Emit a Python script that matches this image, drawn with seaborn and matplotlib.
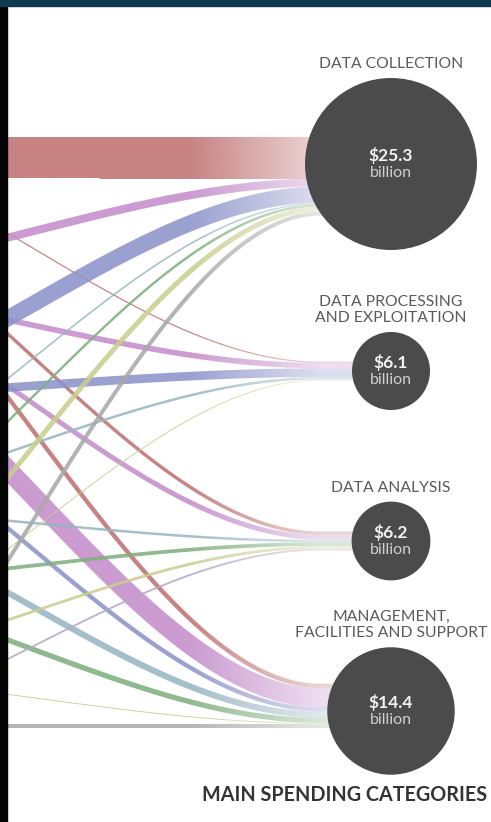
import numpy as np
import pandas as pd
import matplotlib
matplotlib.use("Agg")
import matplotlib.pyplot as plt
from matplotlib.patches import Polygon, Rectangle
from matplotlib.colors import to_rgb
import seaborn as sns

# spending categories (right-hand circles), $ billion
categories = ["DATA COLLECTION", "DATA PROCESSING\nAND EXPLOITATION",
              "DATA ANALYSIS", "MANAGEMENT,\nFACILITIES AND SUPPORT"]
totals = [25.3, 6.1, 6.2, 14.4]

# funding sources sit off the left edge of the crop, only their colour shows
sources = ["red", "purple", "blue", "teal", "green", "yellow", "gray", "lilac", "gray2"]

# flows from source to category, $ billion, in the order they leave each source
flow_source = ["red", "red", "red", "red",
               "purple", "purple", "purple", "purple",
               "blue", "blue", "blue",
               "teal", "teal", "teal", "teal",
               "green", "green", "green",
               "yellow", "yellow", "yellow", "yellow",
               "gray", "lilac", "gray2"]
flow_target = [1, 0, 3, 2,
               2, 0, 1, 3,
               3, 1, 0,
               3, 2, 1, 0,
               3, 0, 2,
               3, 2, 1, 0,
               3, 2, 0]
flow_value = [0.4, 13.3, 1.4, 1.1,
              1.6, 2.6, 1.8, 6.2,
              1.4, 2.8, 5.2,
              2.0, 0.8, 0.8, 0.5,
              1.7, 0.8, 1.2,
              0.3, 0.9, 0.3, 1.6,
              1.4, 0.6, 1.3]

flows = pd.DataFrame({"source": flow_source, "target": flow_target, "value": flow_value})

# ---- layout (pixels) ----
W, H = 491, 822
PX_PER_B = 3.1
SRC_X, LINK_END_X = -250, 320
circle_x = 391
circle_y = [164, 371, 541, 711]
stack_mid = [176.5, 371, 541, 706]
source_top = [136, 270, 390, 498, 577, 672, 724, 740, 819]
colors = {"red": "#c07272", "purple": "#c48dcb", "blue": "#8c93ca", "teal": "#96b6c2",
          "green": "#80b07f", "yellow": "#c8ce8e", "gray": "#ababab", "lilac": "#b3a9c3",
          "gray2": "#a9a9a9"}
size_range = (3154, 15336)   # marker area in pt^2, smallest / largest circle

flows["h"] = flows["value"] * PX_PER_B
flows["src_idx"] = flows["source"].map({s: i for i, s in enumerate(sources)})

# y centre of each flow where it leaves its source
flows["y0"] = 0.0
for i, s in enumerate(sources):
    sel = flows["source"] == s
    cum = flows.loc[sel, "h"].cumsum()
    flows.loc[sel, "y0"] = source_top[i] + cum - flows.loc[sel, "h"] / 2

# y centre of each flow where it reaches its category (stacked in source order)
flows["y1"] = 0.0
for t in range(len(categories)):
    sel = flows[flows["target"] == t].sort_values("src_idx")
    top = stack_mid[t] - sel["h"].sum() / 2
    cum = sel["h"].cumsum()
    flows.loc[sel.index, "y1"] = top + cum - sel["h"] / 2

sns.set_theme(style="white")
plt.rcParams["font.family"] = ["Lato", "DejaVu Sans"]

fig = plt.figure(figsize=(W / 100, H / 100), dpi=100)
ax = fig.add_axes([0, 0, 1, 1])
ax.set_facecolor("white")


def alpha_profile(x):
    return np.interp(x, [0, 190, 320, W], [0.88, 0.88, 0.3, 0.3])


xs = np.linspace(0, circle_x, 500)
grad_x = np.linspace(0, W, 512)
for _, f in flows.iterrows():
    span = LINK_END_X - SRC_X
    u = np.clip((xs - SRC_X) / span, 0, 1)
    y = f.y0 + (f.y1 - f.y0) * (3 * u ** 2 - 2 * u ** 3)
    dy = (f.y1 - f.y0) * 6 * u * (1 - u) / span
    norm = np.sqrt(1 + dy ** 2)
    nx, ny = -dy / norm, 1 / norm
    half = max(f.h, 1.0) / 2
    upper = np.column_stack([xs + nx * half, y + ny * half])
    lower = np.column_stack([xs - nx * half, y - ny * half])
    poly = Polygon(np.vstack([upper, lower[::-1]]), closed=True,
                   transform=ax.transData, facecolor="none", edgecolor="none")
    grad = np.zeros((1, len(grad_x), 4))
    grad[..., :3] = to_rgb(colors[f.source])
    grad[..., 3] = alpha_profile(grad_x)
    im = ax.imshow(grad, extent=(0, W, H, 0), aspect="auto",
                   interpolation="bilinear", zorder=2)
    im.set_clip_path(poly)

# category circles, area grows with spending
circ = pd.DataFrame({"x": [circle_x] * 4, "y": circle_y, "total": totals})
sns.scatterplot(data=circ, x="x", y="y", size="total", sizes=size_range,
                color="#4b4b4b", linewidth=0, legend=False, ax=ax, zorder=5)

vmin, vmax = min(totals), max(totals)
for t, cat in enumerate(categories):
    area = size_range[0] + (totals[t] - vmin) / (vmax - vmin) * (size_range[1] - size_range[0])
    r = np.sqrt(area) / 0.72 / 2
    cy = circle_y[t]
    ax.text(circle_x, cy - 9, f"${totals[t]}", ha="center", va="center",
            fontsize=12.5, fontweight="bold", color="#f2f2f2", zorder=6)
    ax.text(circle_x, cy + 9, "billion", ha="center", va="center",
            fontsize=11.5, color="#cfcfcf", zorder=6)
    ax.text(circle_x, cy - r - 7, cat, ha="center", va="bottom", fontsize=11.3,
            color="#5a5a5a", linespacing=1.2, zorder=6)

ax.text(487, 795, "MAIN SPENDING CATEGORIES", ha="right", va="center",
        fontsize=14.2, fontweight="bold", color="#333333", zorder=6)

# frame of the screenshot
ax.add_patch(Rectangle((0, 0), 7, H, color="#050505", zorder=9))
ax.add_patch(Rectangle((0, 0), W, 6, color="#113a50", zorder=10))

ax.set_xlim(0, W)
ax.set_ylim(H, 0)
ax.axis("off")
fig.savefig("out.png", dpi=100)
